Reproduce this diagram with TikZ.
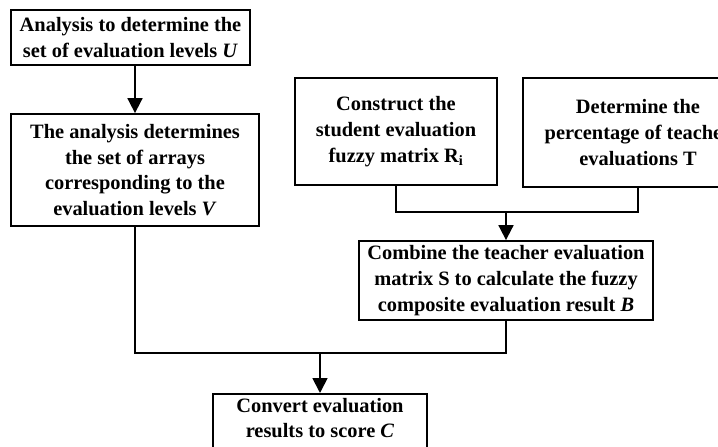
\documentclass[tikz,border=0pt]{standalone}
\usepackage{fontspec}
\setmainfont{Liberation Serif}
\usetikzlibrary{arrows.meta}
\tikzset{
  stepbox/.style={draw, line width=1.8pt, fill=white, align=center, inner sep=0pt,
    font=\bfseries\fontsize{20.4}{25.7}\selectfont},
  link/.style={line width=1.8pt},
  arr/.style={link, -{Triangle[length=15pt,width=15pt]}}
}
\begin{document}
\begin{tikzpicture}[x=1pt,y=-1pt]
  \useasboundingbox (0,0) rectangle (718,447);
  \clip (0,0) rectangle (718,447);

  % process boxes
  \node[stepbox, minimum width=239pt, minimum height=55pt] (b1) at (130.5,37.5)
    {Analysis to determine the\\set of evaluation levels \textit{U}};
  \node[stepbox, minimum width=248pt, minimum height=112pt] (b2) at (135,170)
    {The analysis determines\\the set of arrays\\corresponding to the\\evaluation levels \textit{V}};
  \node[stepbox, minimum width=202pt, minimum height=107pt] (b3) at (396,131.5)
    {Construct the\\student evaluation\\fuzzy matrix R\textsubscript{i}};
  \node[stepbox, minimum width=230pt, minimum height=109pt] (b4) at (638,132.5)
    {Determine the\\percentage of teacher\\evaluations T};
  \node[stepbox, minimum width=294pt, minimum height=79pt] (b5) at (506,280.5)
    {Combine the teacher evaluation\\matrix S to calculate the fuzzy\\composite evaluation result \textit{B}};
  \node[stepbox, minimum width=214pt, anchor=north, inner ysep=4pt, text depth=16pt] (b6) at (320,393)
    {Convert evaluation\\results to score \textit{C}};

  % junction points of the merging connectors
  \coordinate (j1) at (506,212);
  \coordinate (j2) at (320,353);

  % connectors
  \draw[arr] (b1.south -| b2.north) -- (b2.north);
  \draw[link] (b3.south) |- (j1) -| (b4.south);
  \draw[arr] (j1) -- (b5.north);
  \draw[link] (b2.south) |- (j2) -| (b5.south);
  \draw[arr] (j2) -- (b6.north);
\end{tikzpicture}
\end{document}
